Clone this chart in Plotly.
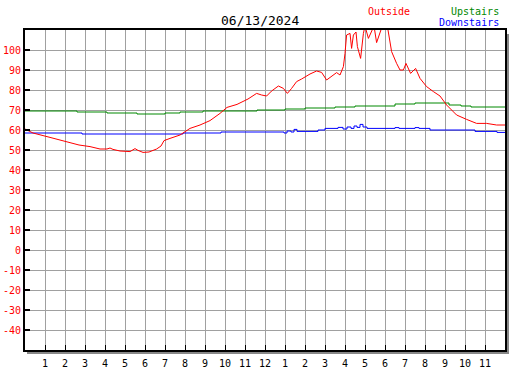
import plotly.graph_objects as go

# ---- data ----
outside_h = [0, 0.4, 1.25, 2.1, 2.7, 3.25, 3.75, 4.1, 4.25, 4.4, 4.75, 5.25, 5.5, 5.65, 5.9, 6.2,
             6.58, 6.8, 6.95, 7.25, 7.75, 8.25, 8.75, 9.25, 9.75, 10.1, 10.6, 11.15, 11.58, 11.83,
             12.08, 12.33, 12.67, 12.92, 13.12, 13.33, 13.58, 13.83, 14.25, 14.58, 14.83, 15.08,
             15.42, 15.58, 15.75, 15.92, 16.0, 16.08, 16.25, 16.33, 16.42, 16.55, 16.62, 16.78,
             16.92, 17.0, 17.17, 17.33, 17.45, 17.58, 17.75, 17.9, 18.1, 18.33, 18.58, 18.75,
             18.92, 19.05, 19.28, 19.53, 19.75, 20.08, 20.42, 20.75, 21.08, 21.58, 22.08, 22.58,
             23.08, 23.58, 24]
outside_v = [60.5, 58.5, 56.3, 54.2, 52.5, 51.7, 50.5, 50.5, 51, 50.3, 49.5, 49.2, 50.7, 49.8, 48.8, 49,
             50.5, 52, 54.7, 55.8, 57.5, 60.8, 62.5, 64.7, 68.3, 71.3, 72.8, 75.5, 78.3, 77.5,
             77, 79.5, 82, 80.8, 78.3, 80.8, 84.2, 85.5, 88, 89.5, 88.8, 85,
             87.5, 88.7, 87.5, 91.7, 98.3, 107.5, 108.3, 100.8, 107.5, 109, 101.7, 95.8,
             108.3, 112, 105.8, 109, 112, 103.7, 108.3, 113, 113, 99.2, 93.3, 90,
             90, 93.3, 88.3, 90.8, 85.8, 81.7, 79.2, 77, 72.5, 67.5, 65.3, 63.3,
             63.3, 62.5, 62.5]

upstairs_h = [0, 2.6, 4.1, 5.6, 7.0, 7.75, 8.9, 11.6, 13.0, 14.0, 15.5, 16.5, 18.5, 19.5, 21.2, 21.8, 22.3, 24]
upstairs_v = [69.5, 69, 68.5, 68, 68.5, 69, 69.5, 70, 70.5, 71, 71.5, 72, 73, 73.5, 72.5, 72, 71.5, 71.5]

downstairs_h = [0, 2.85, 7.9, 9.8, 12.95, 13.1, 13.3, 13.45, 13.6, 14.65, 15.0, 15.65, 15.9, 16.1,
                16.3, 16.45, 16.6, 16.75, 16.9, 17.1, 18.5, 18.7, 19.5, 19.7, 20.25, 22.5, 23.6, 24]
downstairs_v = [58.5, 58, 58.5, 59, 58.5, 59.5, 59, 60.3, 59.3, 60, 60.8, 61.3, 60.5, 61.5,
                60.8, 62, 61.3, 62.8, 61.5, 60.8, 61.2, 60.8, 61.2, 60.8, 60, 59.3, 58.8, 58.8]

x_tickvals = list(range(1, 24))
x_ticktext = [str(h if h <= 12 else h - 12) for h in x_tickvals]
y_tickvals = list(range(-40, 101, 10))
y_ticktext = [str(v) for v in y_tickvals]

title_text = "06/13/2024"
FONT = "DejaVu Sans Mono"
GREEN = "#008800"

fig = go.Figure()
fig.add_trace(go.Scatter(x=upstairs_h, y=upstairs_v, mode="lines", line=dict(color=GREEN, width=1, shape="hv"), name="Upstairs"))
fig.add_trace(go.Scatter(x=downstairs_h, y=downstairs_v, mode="lines", line=dict(color="#0000ff", width=1, shape="hv"), name="Downstairs"))
fig.add_trace(go.Scatter(x=outside_h, y=outside_v, mode="lines", line=dict(color="#ff0000", width=1), name="Outside"))

fig.update_layout(
    width=527, height=370,
    margin=dict(l=25, r=22, t=30, b=20, autoexpand=False),
    paper_bgcolor="white", plot_bgcolor="white",
    showlegend=False, hovermode=False,
    font=dict(family=FONT, size=10, color="black"),
)
fig.update_xaxes(
    range=[0, 24], tickvals=x_tickvals, ticktext=x_ticktext, automargin=False,
    showgrid=True, gridcolor="#a0a0a0", gridwidth=1, zeroline=False,
    ticks="inside", ticklen=5, tickwidth=1, tickcolor="black", ticklabelstandoff=3,
    showline=True, linecolor="black", linewidth=2, mirror=True,
    tickfont=dict(family=FONT, size=10, color="black"),
)
fig.update_yaxes(
    range=[-50, 110], tickvals=y_tickvals, ticktext=y_ticktext, automargin=False,
    showgrid=True, gridcolor="#a0a0a0", gridwidth=1, zeroline=False,
    ticks="inside", ticklen=5, tickwidth=2, tickcolor="black",
    showline=True, linecolor="black", linewidth=2, mirror=True,
    tickfont=dict(family=FONT, size=10, color="#ff0000"),
)

# drop shadow of the frame
fig.add_shape(type="rect", xref="x domain", yref="y domain",
              xsizemode="pixel", xanchor=1, x0=2, x1=4,
              ysizemode="pixel", yanchor=0, y0=-4, y1=316,
              fillcolor="#888888", line=dict(width=0), layer="below")
fig.add_shape(type="rect", xref="x domain", yref="y domain",
              xsizemode="pixel", xanchor=0, x0=2, x1=484,
              ysizemode="pixel", yanchor=0, y0=-2, y1=-4,
              fillcolor="#888888", line=dict(width=0), layer="below")

fig.add_annotation(text=title_text, xref="paper", yref="paper", x=0.4906, y=1.03125,
                   xanchor="center", yanchor="middle", showarrow=False,
                   font=dict(family=FONT, size=13, color="black"))
fig.add_annotation(text="Outside", xref="paper", yref="paper", x=0.8056, y=1.059,
                   xanchor="right", yanchor="middle", showarrow=False,
                   font=dict(family=FONT, size=10, color="#ff0000"))
fig.add_annotation(text="Upstairs", xref="paper", yref="paper", x=0.9917, y=1.059,
                   xanchor="right", yanchor="middle", showarrow=False,
                   font=dict(family=FONT, size=10, color=GREEN))
fig.add_annotation(text="Downstairs", xref="paper", yref="paper", x=0.9917, y=1.022,
                   xanchor="right", yanchor="middle", showarrow=False,
                   font=dict(family=FONT, size=10, color="#0000ff"))

fig.write_html("out.html", config={"displayModeBar": False, "staticPlot": True},
               post_script="document.body.style.margin='0';")
